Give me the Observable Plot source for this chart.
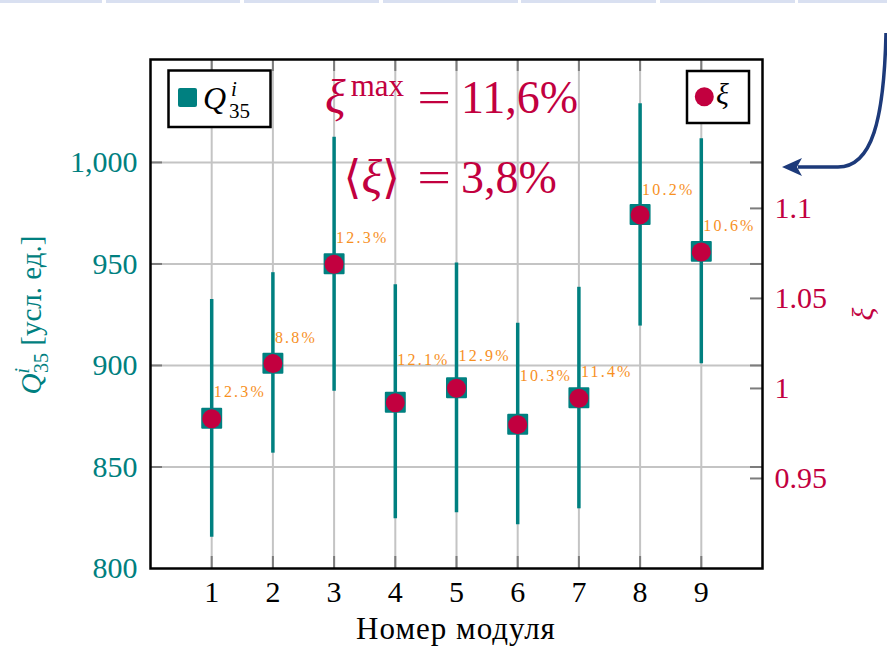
<!DOCTYPE html>
<html>
<head>
<meta charset="utf-8">
<script src="https://cdn.jsdelivr.net/npm/d3@7"></script>
<script src="https://cdn.jsdelivr.net/npm/@observablehq/plot@0.6"></script>
<style>
  html, body { margin: 0; padding: 0; background: #ffffff; }
  #wrap { position: relative; width: 887px; height: 647px; overflow: hidden; background: #ffffff; }
  #wrap svg { display: block; }
</style>
</head>
<body>
<div id="wrap"></div>
<script>
// ---- data ----
const modules   = [1, 2, 3, 4, 5, 6, 7, 8, 9];
const q35       = [874.0, 901.1, 950.1, 881.9, 889.0, 871.1, 884.1, 974.4, 956.2];
const qLow      = [815.4, 856.8, 887.3, 824.5, 827.4, 821.5, 829.4, 919.4, 900.8];
const qHigh     = [932.5, 945.7, 1012.4, 939.8, 950.5, 920.8, 938.5, 1028.9, 1011.7];
const xi        = [0.9832, 1.0138, 1.0690, 0.9921, 1.0001, 0.9799, 0.9946, 1.0964, 1.0758];
const spread    = ["12.3%", "8.8%", "12.3%", "12.1%", "12.9%", "10.3%", "11.4%", "10.2%", "10.6%"];
const spreadAt  = [886.8, 913.6, 962.9, 902.8, 904.9, 894.7, 896.7, 986.6, 969.0];
const qTicks    = [800, 850, 900, 950, 1000];
const xiTicks   = [0.95, 1, 1.05, 1.1];
const xiTickLabels = ["0.95", "1", "1.05", "1.1"];
const qDomain   = [800, 1050.7];
const xiDomain  = [0.9, 1.1827];
const xDomain   = [0, 10];
const xiMax = "11,6%";
const xiMean = "3,8%";

// ---- style ----
const W = 887, H = 647, mL = 150, mR = 125, mT = 59, mB = 79;
const fw = W - mL - mR, fh = H - mT - mB;
const SERIF = "'Liberation Serif', 'DejaVu Serif', serif";
const TEAL = "#008080", RED = "#c2003f", ORANGE = "#f7901e", GRID = "#c4c4c4", TICK = "#7c7c7c";

// right axis (ξ) mapped onto the Q scale
const toQ = v => qDomain[0] + (v - xiDomain[0]) / (xiDomain[1] - xiDomain[0]) * (qDomain[1] - qDomain[0]);
const xiLabelOf = new Map(xiTicks.map((v, i) => [toQ(v), xiTickLabels[i]]));

const rows = modules.map((m, i) => ({
  m, q: q35[i], lo: qLow[i], hi: qHigh[i], xiQ: toQ(xi[i]), label: spread[i], ly: spreadAt[i]
}));
const inner = qTicks.filter(d => d > qDomain[0]);

const chart = Plot.plot({
  width: W, height: H,
  marginLeft: mL, marginRight: mR, marginTop: mT, marginBottom: mB,
  x: {domain: xDomain},
  y: {domain: qDomain},
  style: {fontFamily: SERIF, fontSize: "30px", color: "black", background: "transparent", overflow: "visible"},
  marks: [
    Plot.ruleX(modules, {x: d => d, stroke: GRID, strokeWidth: 2}),
    Plot.ruleY(inner, {y: d => d, stroke: GRID, strokeWidth: 2}),
    Plot.tickY(inner, {y: d => d, stroke: TICK, strokeWidth: 2, insetRight: fw - 12}),
    Plot.tickY([...inner, ...xiTicks.map(toQ)], {y: d => d, stroke: TICK, strokeWidth: 2, insetLeft: fw - 12}),
    Plot.tickX(modules, {x: d => d, stroke: TICK, strokeWidth: 2, insetTop: fh - 12}),
    Plot.tickX(modules, {x: d => d, stroke: TICK, strokeWidth: 2, insetBottom: fh - 12}),
    Plot.ruleX(rows, {x: "m", y1: "lo", y2: "hi", stroke: TEAL, strokeWidth: 3.5}),
    Plot.dot(rows, {x: "m", y: "q", symbol: "square", r: 10.7, fill: TEAL, stroke: TEAL, strokeWidth: 2, strokeLinejoin: "round"}),
    Plot.dot(rows, {x: "m", y: "xiQ", r: 9.5, fill: RED}),
    Plot.text(rows, {x: "m", y: "ly", text: "label", dx: 2, textAnchor: "start", lineAnchor: "middle", fill: ORANGE, fontSize: 16, ariaLabel: "spread"}),
    Plot.axisX(modules, {anchor: "bottom", tickSize: 0, tickPadding: 12, label: null}),
    Plot.axisY(qTicks, {anchor: "left", tickSize: 0, tickPadding: 13, tickFormat: d3.format(","), color: TEAL, label: null}),
    Plot.axisY(xiTicks.map(toQ), {anchor: "right", tickSize: 0, tickPadding: 12, tickFormat: d => xiLabelOf.get(d), color: RED, label: null}),
    Plot.frame({stroke: "black", strokeWidth: 2.5})
  ]
});

document.getElementById("wrap").appendChild(chart);

const svg = d3.select(chart);
// widen the small percentage labels (letter-spaced as in the original)
svg.selectAll("text").each(function () {
  const own = this.getAttribute("fill");
  const parent = this.parentNode && this.parentNode.getAttribute && this.parentNode.getAttribute("fill");
  if (own === ORANGE || parent === ORANGE) this.style.letterSpacing = "2.2px";
});

// ---- decorations and rich text ----
const deco = svg.insert("g", ":first-child");
// slide navigation strip at the top
[[0, 102], [106, 240], [244, 379], [383, 518], [521, 656], [660, 795], [798, 887]].forEach(([a, b]) =>
  deco.append("rect").attr("x", a).attr("y", 0).attr("width", b - a).attr("height", 3).attr("fill", "#d9e0f1"));

const ann = svg.append("g").attr("font-family", SERIF).attr("text-anchor", "start");

// left axis title: Q^i_35 [усл. ед.]
const lt = ann.append("text").attr("transform", "translate(41,315) rotate(-90)")
  .attr("text-anchor", "middle").attr("fill", TEAL).attr("font-size", 29);
lt.append("tspan").attr("font-style", "italic").text("Q");
lt.append("tspan").attr("font-style", "italic").attr("font-size", 20).attr("dy", -12).text("i");
lt.append("tspan").attr("font-size", 20).attr("dx", -5).attr("dy", 19).text("35");
lt.append("tspan").attr("dy", -7).text(" [усл. ед.]");

// right axis title: ξ
ann.append("text").attr("transform", "translate(873,314) rotate(-90)")
  .attr("text-anchor", "middle").attr("fill", RED).attr("font-size", 30).attr("font-style", "italic").text("ξ");

// x axis title
ann.append("text").attr("x", 456).attr("y", 639).attr("text-anchor", "middle")
  .attr("font-size", 31).attr("letter-spacing", "1px").attr("fill", "black").text("Номер модуля");

// legend: Q^i_35
ann.append("rect").attr("x", 168.5).attr("y", 70.5).attr("width", 102).attr("height", 56.5)
  .attr("fill", "white").attr("stroke", "black").attr("stroke-width", 2.5);
ann.append("rect").attr("x", 178).attr("y", 88).attr("width", 19).attr("height", 19).attr("rx", 2).attr("fill", TEAL);
ann.append("text").attr("x", 203).attr("y", 109).attr("font-size", 32).attr("font-style", "italic").text("Q");
ann.append("text").attr("x", 231).attr("y", 96).attr("font-size", 21).attr("font-style", "italic").text("i");
ann.append("text").attr("x", 229).attr("y", 118).attr("font-size", 21).text("35");

// legend: ξ
ann.append("rect").attr("x", 687).attr("y", 71).attr("width", 62).attr("height", 52)
  .attr("fill", "white").attr("stroke", "black").attr("stroke-width", 2.5);
ann.append("circle").attr("cx", 704.3).attr("cy", 96.7).attr("r", 9.5).attr("fill", RED);
ann.append("text").attr("x", 716).attr("y", 104).attr("font-size", 30).attr("font-style", "italic").text("ξ");

// big statistics text
const s1 = ann.append("text").attr("x", 404).attr("y", 113).attr("text-anchor", "end").attr("fill", RED).attr("font-size", 48);
s1.append("tspan").attr("font-style", "italic").text("ξ");
s1.append("tspan").attr("font-size", 31).attr("dy", -17).attr("dx", 5).text("max");
ann.append("text").attr("transform", "translate(434,113) scale(1.3,1)").attr("text-anchor", "middle").attr("fill", RED).attr("font-size", 46).text("=");
ann.append("text").attr("x", 461).attr("y", 113).attr("text-anchor", "start").attr("fill", RED).attr("font-size", 46).text(xiMax);

const s2 = ann.append("text").attr("x", 400).attr("y", 193).attr("text-anchor", "end").attr("fill", RED).attr("font-size", 46);
s2.append("tspan").text("⟨");
s2.append("tspan").attr("font-style", "italic").attr("font-size", 48).text("ξ");
s2.append("tspan").text("⟩");
ann.append("text").attr("transform", "translate(434,193) scale(1.3,1)").attr("text-anchor", "middle").attr("fill", RED).attr("font-size", 46).text("=");
ann.append("text").attr("x", 461).attr("y", 193).attr("text-anchor", "start").attr("fill", RED).attr("font-size", 46).text(xiMean);

// curved pointer arrow (top right)
ann.append("path").attr("d", "M886,33 C884,120 872,167 838,167 L798,167")
  .attr("fill", "none").attr("stroke", "#1d3a7a").attr("stroke-width", 3.5);
ann.append("path").attr("d", "M782,167 L802,158 L797,167 L802,176 Z").attr("fill", "#1d3a7a");
</script>
</body>
</html>
